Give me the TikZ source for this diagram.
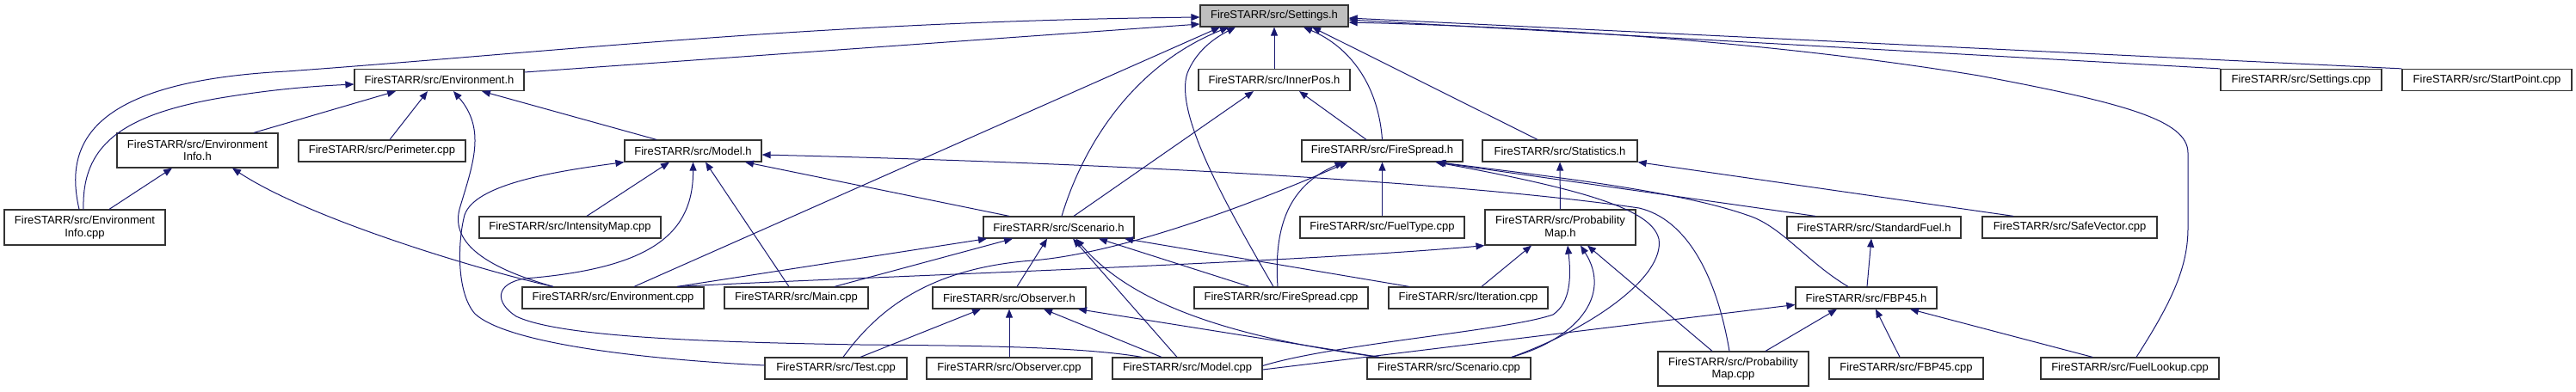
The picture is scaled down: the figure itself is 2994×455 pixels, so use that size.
\documentclass[tikz,border=0pt]{standalone}
\usepackage{fontspec}
\newfontfamily\docfont{Liberation Sans}
\usetikzlibrary{arrows.meta}
\definecolor{edgeblue}{HTML}{191970}
\definecolor{hdrgray}{HTML}{BFBFBF}
\tikzset{
  filebox/.style={draw=black!80,line width=1.2pt,fill=white,minimum height=25pt,inner xsep=2pt,inner ysep=0pt,align=center,
    font=\docfont\fontsize{13}{14.5}\selectfont},
  dep/.style={-{Triangle[length=10pt,width=8pt]},draw=edgeblue,line width=1pt}
}

\begin{document}
\begin{tikzpicture}[x=1pt,y=-1pt]
\useasboundingbox (0,0) rectangle (2994,455);

\node[filebox,minimum width=172pt,fill=hdrgray] (settingsh) at (1481,18.5) {FireSTARR/src/Settings.h};

\node[filebox,minimum width=197pt] (envh) at (510.5,93) {FireSTARR/src/Environment.h};
\node[filebox,minimum width=176pt] (innerpos) at (1481,93) {FireSTARR/src/InnerPos.h};
\node[filebox,minimum width=187pt] (settingscpp) at (2674.5,93) {FireSTARR/src/Settings.cpp};
\node[filebox,minimum width=197pt] (startpoint) at (2890.5,93) {FireSTARR/src/StartPoint.cpp};

\node[filebox,minimum width=187pt,minimum height=40pt] (envinfoh) at (229.5,175) {FireSTARR/src/Environment\\Info.h};
\node[filebox,minimum width=194pt] (perimeter) at (444,175.5) {FireSTARR/src/Perimeter.cpp};
\node[filebox,minimum width=159pt] (modelh) at (805.5,175.5) {FireSTARR/src/Model.h};
\node[filebox,minimum width=187pt] (firespreadh) at (1606.5,175.5) {FireSTARR/src/FireSpread.h};
\node[filebox,minimum width=180pt] (statsh) at (1813,175.5) {FireSTARR/src/Statistics.h};

\node[filebox,minimum width=187pt,minimum height=41pt] (envinfocpp) at (98.5,264.5) {FireSTARR/src/Environment\\Info.cpp};
\node[filebox,minimum width=211pt] (intensitymap) at (662.5,264.5) {FireSTARR/src/IntensityMap.cpp};
\node[filebox,minimum width=175pt] (scenh) at (1230.5,264.5) {FireSTARR/src/Scenario.h};
\node[filebox,minimum width=191pt] (fueltype) at (1606.5,264.5) {FireSTARR/src/FuelType.cpp};
\node[filebox,minimum width=175pt,minimum height=41pt] (probmaph) at (1813.5,264.5) {FireSTARR/src/Probability\\Map.h};
\node[filebox,minimum width=202pt] (standardfuel) at (2178,264.5) {FireSTARR/src/StandardFuel.h};
\node[filebox,minimum width=203pt] (safevector) at (2405.5,264.5) {FireSTARR/src/SafeVector.cpp};

\node[filebox,minimum width=211pt] (envcpp) at (712.5,346.5) {FireSTARR/src/Environment.cpp};
\node[filebox,minimum width=167pt] (maincpp) at (925.5,346.5) {FireSTARR/src/Main.cpp};
\node[filebox,minimum width=178pt] (observerh) at (1173,346.5) {FireSTARR/src/Observer.h};
\node[filebox,minimum width=202pt] (firespreadcpp) at (1489,346.5) {FireSTARR/src/FireSpread.cpp};
\node[filebox,minimum width=185pt] (iterationcpp) at (1706.5,346.5) {FireSTARR/src/Iteration.cpp};
\node[filebox,minimum width=164pt] (fbp45h) at (2169,346.5) {FireSTARR/src/FBP45.h};

\node[filebox,minimum width=165pt] (testcpp) at (971.5,428.5) {FireSTARR/src/Test.cpp};
\node[filebox,minimum width=192pt] (observercpp) at (1173,428.5) {FireSTARR/src/Observer.cpp};
\node[filebox,minimum width=174pt] (modelcpp) at (1380,428.5) {FireSTARR/src/Model.cpp};
\node[filebox,minimum width=190pt] (scencpp) at (1684,428.5) {FireSTARR/src/Scenario.cpp};
\node[filebox,minimum width=175pt,minimum height=40pt] (probmapcpp) at (2014.5,429) {FireSTARR/src/Probability\\Map.cpp};
\node[filebox,minimum width=179pt] (fbp45cpp) at (2215.5,428.5) {FireSTARR/src/FBP45.cpp};
\node[filebox,minimum width=207pt] (fuellookup) at (2475.5,428.5) {FireSTARR/src/FuelLookup.cpp};

% Settings.h
\draw[dep] ([yshift=9pt]envh.east) -- ([yshift=-9.5pt]settingsh.west);
\draw[dep] ([xshift=-6.5pt]envinfocpp.north) .. controls (75,170) and (100,95) .. (333,83) .. controls (650,60) and (950,25) .. ([yshift=-1.5pt]settingsh.west);
\draw[dep] ([xshift=24.5pt]envcpp.north) -- ([xshift=-63pt]settingsh.south);
\draw[dep] ([xshift=3.5pt]scenh.north) .. controls (1260,165) and (1320,75) .. ([xshift=-53pt]settingsh.south);
\draw[dep] ([xshift=-9pt]firespreadcpp.north) .. controls (1420,230) and (1365,130) .. (1380,85) .. controls (1390,60) and (1410,45) .. ([xshift=-45pt]settingsh.south);
\draw[dep] (innerpos) -- (settingsh);
\draw[dep] (firespreadh.north) .. controls (1602,100) and (1570,55) .. ([xshift=34pt]settingsh.south);
\draw[dep] ([xshift=-26pt]statsh.north) -- ([xshift=44pt]settingsh.south);
\draw[dep] (settingscpp.north west) -- ([yshift=-4.5pt]settingsh.east);
\draw[dep] (startpoint.north west) -- ([yshift=-2.5pt]settingsh.east);
\draw[dep] ([xshift=7.5pt]fuellookup.north) .. controls (2525,350) and (2543,310) .. (2543,265) -- (2543,178) .. controls (2543,140) and (2470,120) .. (2300,88) .. controls (2100,55) and (1850,33) .. ([yshift=-7.5pt]settingsh.east);

% Environment.h, EnvironmentInfo.h, InnerPos.h
\draw[dep] ([xshift=-1.5pt]envinfocpp.north) .. controls (95,170) and (140,135) .. (250,115) .. controls (320,103) and (370,100) .. ([yshift=-5pt]envh.west);
\draw[dep] ([xshift=65.5pt]envinfoh.north) -- ([xshift=-50.5pt]envh.south);
\draw[dep] ([xshift=9pt]perimeter.north) -- ([xshift=-13.5pt]envh.south);
\draw[dep] ([xshift=-69.5pt]envcpp.north) .. controls (560,310) and (522,280) .. (535,240) .. controls (550,190) and (565,150) .. ([xshift=16.5pt]envh.south);
\draw[dep] ([xshift=-42.5pt]modelh.north) -- ([xshift=49.5pt]envh.south);
\draw[dep] ([xshift=28.5pt]envinfocpp.north) -- ([xshift=-29.5pt]envinfoh.south);
\draw[dep] ([xshift=-69.5pt]envcpp.north) .. controls (560,315) and (360,255) .. ([xshift=40.5pt]envinfoh.south);
\draw[dep] ([xshift=17.5pt]scenh.north) -- ([xshift=-24pt]innerpos.south);
\draw[dep] ([xshift=-18.5pt]firespreadh.north) -- ([xshift=29pt]innerpos.south);

% Model.h
\draw[dep] ([xshift=19.5pt]intensitymap.north) -- ([xshift=-27.5pt]modelh.south);
\draw[dep] ([xshift=-53pt]modelcpp.north) .. controls (1250,402) and (1100,402) .. (1000,401) .. controls (820,398) and (650,392) .. (600,368) .. controls (575,352) and (575,330) .. (610,324) .. controls (760,312) and (806,270) .. (modelh.south);
\draw[dep] ([xshift=-8.5pt]maincpp.north) -- ([xshift=14.5pt]modelh.south);
\draw[dep] ([xshift=-57.5pt]scenh.north) -- ([xshift=60.5pt]modelh.south);
\draw[dep] ([yshift=3.5pt]testcpp.west) .. controls (750,418) and (590,400) .. (552,365) .. controls (530,340) and (532,280) .. (540,250) .. controls (552,215) and (640,200) .. (modelh.south west);
\draw[dep] ([xshift=-4.5pt]probmapcpp.north) .. controls (1995,320) and (1960,255) .. (1905,242) .. controls (1700,212) and (1300,190) .. ([yshift=-4.5pt]modelh.east);

% Scenario.h
\draw[dep] ([xshift=74.5pt]envcpp.north) -- ([xshift=-83.5pt]scenh.south);
\draw[dep] ([xshift=44.5pt]maincpp.north) -- ([xshift=-53.5pt]scenh.south);
\draw[dep] ([xshift=9pt]observerh.north) -- ([xshift=-13.5pt]scenh.south);
\draw[dep] ([xshift=-12pt]modelcpp.north) -- ([xshift=16.5pt]scenh.south);
\draw[dep] ([xshift=-81pt]scencpp.north) .. controls (1450,395) and (1320,360) .. ([xshift=20pt]scenh.south);
\draw[dep] ([xshift=-37pt]firespreadcpp.north) -- ([xshift=46.5pt]scenh.south);
\draw[dep] ([xshift=-68.5pt]iterationcpp.north) -- ([xshift=76.5pt]scenh.south);

% FireSpread.h, Statistics.h
\draw[dep] ([xshift=-4pt]firespreadcpp.north) .. controls (1480,260) and (1500,215) .. ([xshift=-45pt]firespreadh.south);
\draw[dep] (fueltype) -- (firespreadh);
\draw[dep] ([xshift=8.5pt]testcpp.north) .. controls (1020,360) and (1080,312) .. (1200,303) .. controls (1300,295) and (1450,240) .. ([xshift=-40pt]firespreadh.south);
\draw[dep] ([xshift=73pt]scencpp.north) .. controls (1850,382) and (1935,322) .. (1928,278) .. controls (1920,245) and (1850,222) .. ([xshift=62pt]firespreadh.south);
\draw[dep] ([xshift=-68pt]standardfuel.north) -- ([xshift=62pt]firespreadh.south);
\draw[dep] ([xshift=-21pt]fbp45h.north) .. controls (2100,305) and (2070,262) .. (2030,250) .. controls (1950,222) and (1800,205) .. ([xshift=64pt]firespreadh.south);
\draw[dep] (probmaph) -- (statsh);
\draw[dep] ([xshift=-65.5pt]safevector.north) -- (statsh.south east);

% ProbabilityMap.h
\draw[dep] ([xshift=74.5pt]envcpp.north) .. controls (1000,322) and (1500,306) .. (probmaph.south west);
\draw[dep] ([xshift=15.5pt]iterationcpp.north) -- ([xshift=-33.5pt]probmaph.south);
\draw[dep] ([yshift=3pt]modelcpp.east) .. controls (1550,400) and (1750,385) .. (1805,366) .. controls (1826,352) and (1826,320) .. ([xshift=8.5pt]probmaph.south);
\draw[dep] ([xshift=73pt]scencpp.north) .. controls (1830,395) and (1875,345) .. ([xshift=23.5pt]probmaph.south);
\draw[dep] ([xshift=-24.5pt]probmapcpp.north) -- ([xshift=31.5pt]probmaph.south);

% Observer.h
\draw[dep] ([xshift=28.5pt]testcpp.north) -- ([xshift=-33pt]observerh.south);
\draw[dep] (observercpp) -- (observerh);
\draw[dep] ([xshift=-30pt]modelcpp.north) -- ([xshift=40pt]observerh.south);
\draw[dep] ([xshift=-81pt]scencpp.north) -- ([xshift=80pt]observerh.south);

% StandardFuel.h, FBP45.h
\draw[dep] ([xshift=1pt]fbp45h.north) -- ([xshift=-3pt]standardfuel.south);
\draw[dep] ([xshift=37.5pt]probmapcpp.north) -- ([xshift=-34pt]fbp45h.south);
\draw[dep] ([xshift=-7.5pt]fbp45cpp.north) -- ([xshift=11pt]fbp45h.south);
\draw[dep] ([xshift=-43.5pt]fuellookup.north) -- ([xshift=51pt]fbp45h.south);
\draw[dep] ([yshift=-1.5pt]modelcpp.east) -- ([yshift=-8pt]fbp45h.west);
\end{tikzpicture}
\end{document}
